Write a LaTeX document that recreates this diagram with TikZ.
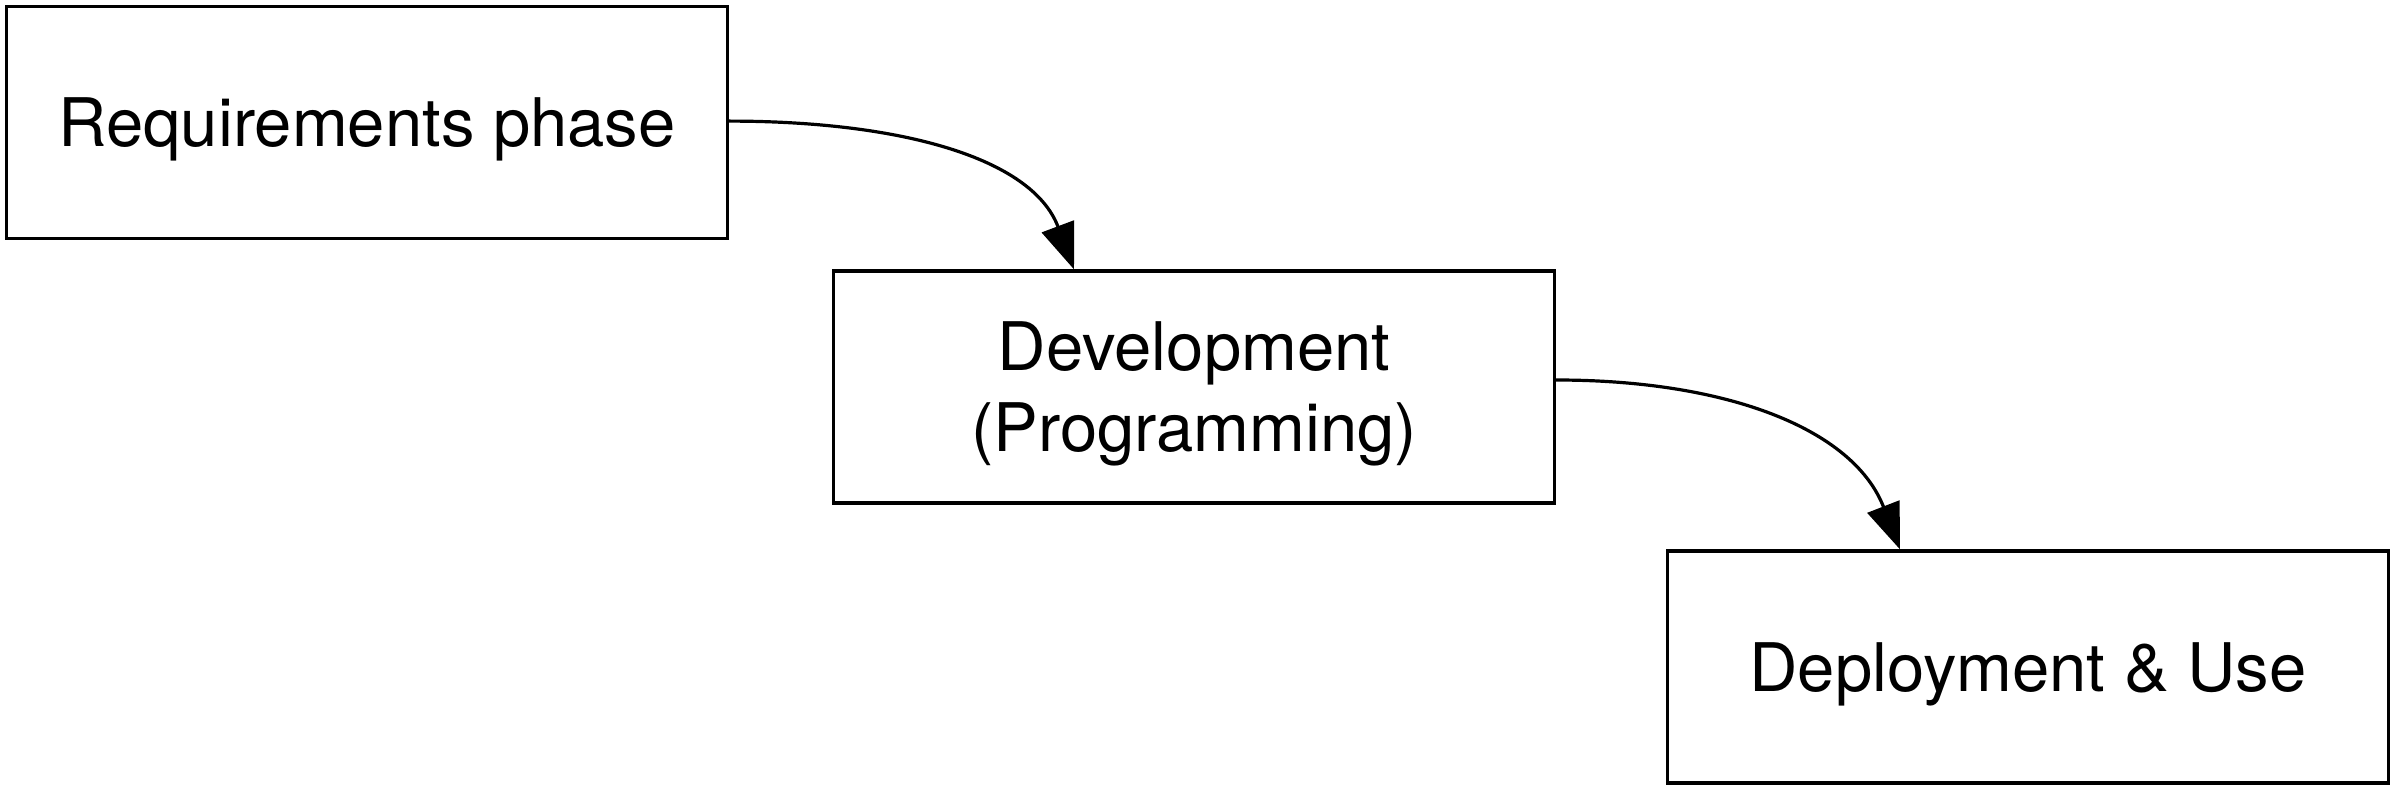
\documentclass[tikz,border=0pt]{standalone}
\usepackage{fontspec}
\setmainfont{TeX Gyre Heros}
\usetikzlibrary{arrows.meta}
\begin{document}
\begin{tikzpicture}[x=0.5pt,y=-0.5pt,
  phase/.style={draw=black,line width=1.6pt,rectangle,minimum width=360.5pt,minimum height=116pt,inner sep=0pt,align=center,text depth=0pt,font=\fontsize{33.5}{40.5}\selectfont},
  flow/.style={line width=1.6pt,-{Triangle[length=23pt,width=17pt]}}]
\useasboundingbox (0,0) rectangle (2391,791);
\node[phase] (b1) at (367,122.5) {Requirements phase};
\node[phase] (b2) at (1194,387) {Development\\(Programming)};
\node[phase] (b3) at (2028,667) {Deployment \& Use};
\draw[flow] ([yshift=0.7pt]b1.east) .. controls +(170,0) and +(-42,-112) .. ([xshift=-60pt]b2.north);
\draw[flow] ([yshift=3.5pt]b2.east) .. controls +(170,0) and +(-47,-121) .. ([xshift=-64pt]b3.north);
\end{tikzpicture}
\end{document}
